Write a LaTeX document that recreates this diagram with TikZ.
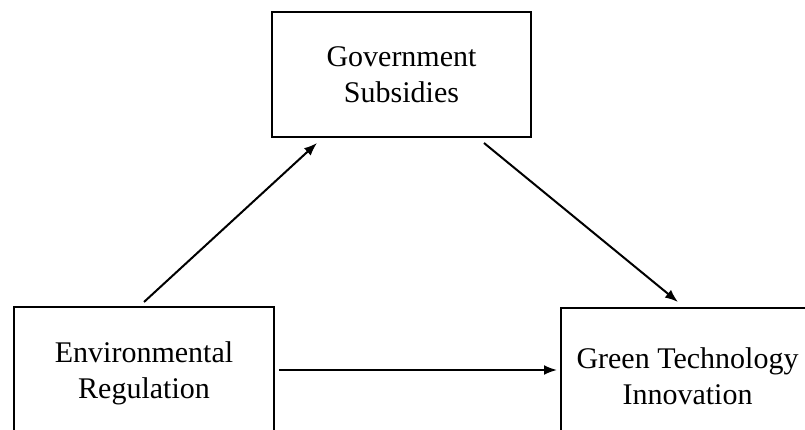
\documentclass[tikz,border=0pt]{standalone}
\usepackage{fontspec}
\setmainfont{Liberation Serif}
\usetikzlibrary{arrows.meta}
\begin{document}
\begin{tikzpicture}[x=1pt,y=1pt,
  box/.style={draw=black, line width=2pt, align=center, inner sep=0pt,
    font=\fontsize{30pt}{36pt}\selectfont},
  arr/.style={line width=2pt, -{Latex[length=13pt,width=10pt]}}]
\useasboundingbox (0,0) rectangle (805,-430);
\clip (0,0) rectangle (805,-430);
\fill[white] (0,0) rectangle (805,-430);
\node[box, minimum width=259pt, minimum height=125pt] (gov) at (401.5,-75) {Government\\Subsidies};
\node[box, minimum width=260pt, minimum height=133pt] (env) at (144,-373.5) {Environmental\\Regulation};
\node[box, minimum width=253pt, minimum height=136pt] (gti) at (687.5,-376) {Green Technology\\Innovation};
\coordinate (a1s) at ([shift={(131pt,4pt)}]env.north west);
\coordinate (a1e) at ([shift={(46pt,-4.5pt)}]gov.south west);
\coordinate (a2s) at ([shift={(-48pt,-4.5pt)}]gov.south east);
\coordinate (a2e) at ([shift={(118pt,5pt)}]gti.north west);
\coordinate (a3s) at ([shift={(4pt,3.5pt)}]env.east);
\path (a3s -| gti.west) coordinate (a3w);
\coordinate (a3e) at ([xshift=-3pt]a3w);
\draw[arr] (a1s) -- (a1e);
\draw[arr] (a2s) -- (a2e);
\draw[arr] (a3s) -- (a3e);
\end{tikzpicture}
\end{document}
